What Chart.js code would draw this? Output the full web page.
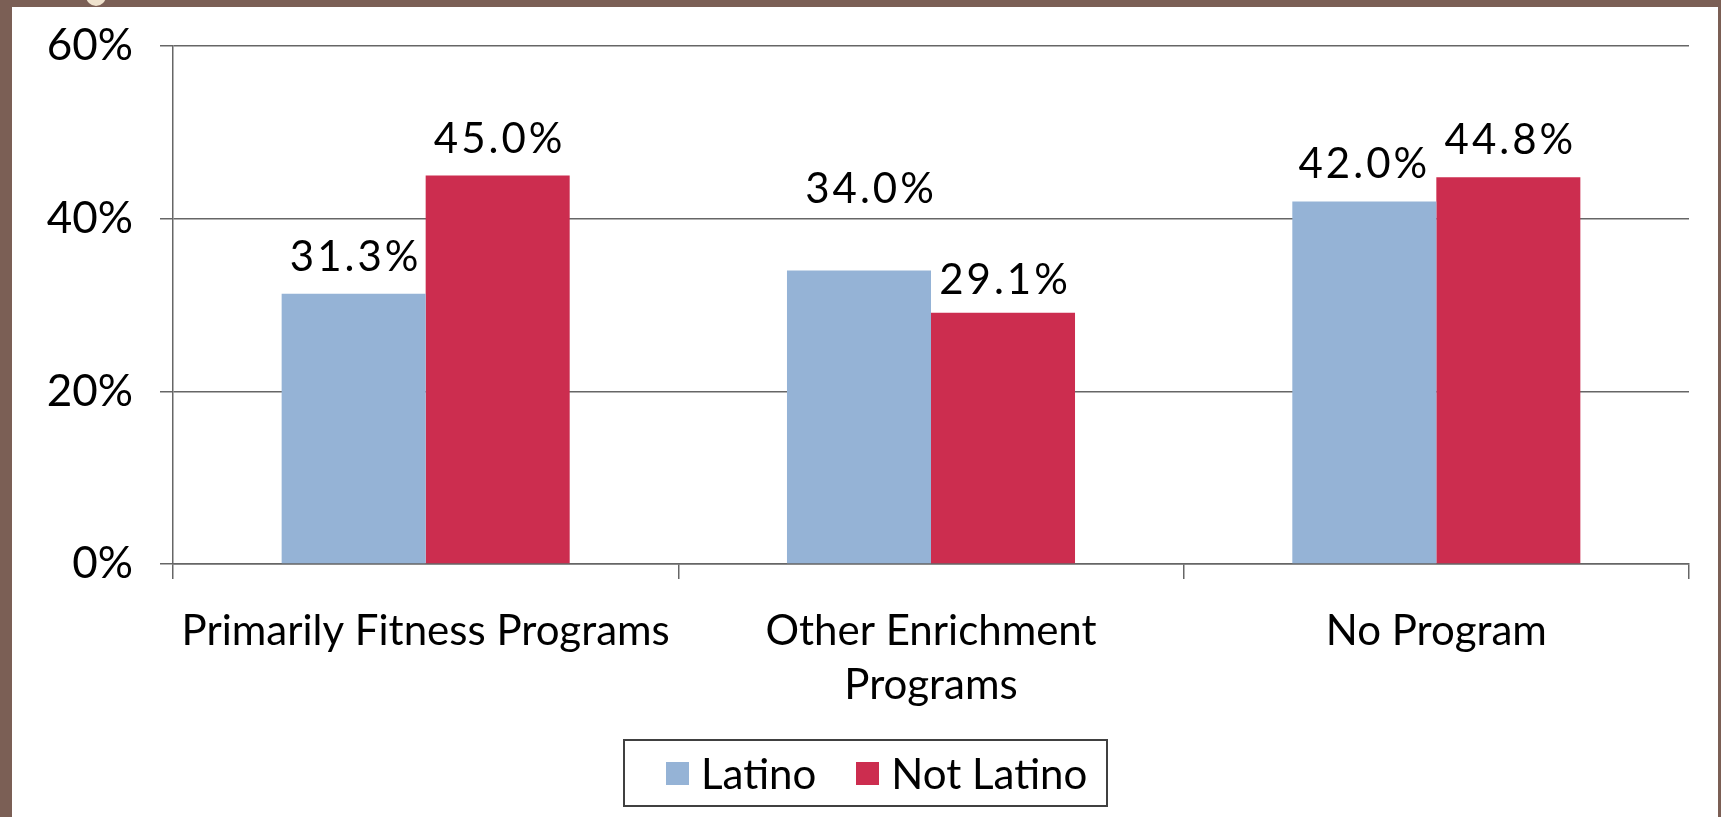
<!DOCTYPE html>
<html>
<head>
<meta charset="utf-8">
<script src="https://cdn.jsdelivr.net/npm/chart.js@4.4.1/dist/chart.umd.min.js"></script>
<style>
  html, body { margin: 0; padding: 0; }
  body { background: #7b5f55; width: 1721px; height: 817px; overflow: hidden; position: relative; }
  #frame { position: absolute; left: 12px; top: 7px; width: 1706px; height: 810px; background: #fff; }
  #dot { position: absolute; left: 86px; top: -14px; width: 20px; height: 20px; border-radius: 50%; background: #efe2cd; }
  canvas { display: block; }
  #legend {
    position: absolute; left: 611px; top: 732px; width: 481px; height: 64px;
    border: 2px solid #404040; box-sizing: content-box;
    display: flex; align-items: center;
    font-family: Lato, "Noto Sans", sans-serif; font-size: 42px; color: #000;
  }
  #legend .item { display: flex; align-items: center; margin-left: 40px; }
  #legend .item:first-child { margin-left: 41px; }
  #legend .swatch { width: 23px; height: 23px; margin-right: 12px; }
</style>
</head>
<body>
<div id="dot"></div>
<div id="frame">
  <canvas id="chart" width="1706" height="810"></canvas>
  <div id="legend"></div>
</div>
<script>
const categories = [
    'Primarily Fitness Programs',
    ['Other Enrichment', 'Programs'],
    'No Program'
];
const latino = [31.3, 34.0, 42.0];
const notLatino = [45.0, 29.1, 44.8];
const yTicks = [0, 20, 40, 60];

const fontName = 'Lato, "Noto Sans", sans-serif';
const lineColor = '#666666';

// nudges for value labels that would otherwise collide: [dx, dy] per dataset/bar
const labelNudge = [
    [[0, 0], [10, -44], [-2, 0]],
    [[0, 0], [0, 4], [0, 0]]
];

const valueLabels = {
    id: 'valueLabels',
    afterDatasetsDraw(chart) {
        const ctx = chart.ctx;
        ctx.save();
        ctx.font = '42px ' + fontName;
        ctx.letterSpacing = '3px';
        ctx.fillStyle = '#000';
        ctx.textAlign = 'center';
        ctx.textBaseline = 'alphabetic';
        chart.data.datasets.forEach((ds, i) => {
            chart.getDatasetMeta(i).data.forEach((bar, j) => {
                const n = labelNudge[i][j];
                ctx.fillText(ds.data[j].toFixed(1) + '%', bar.x + n[0] + 2, bar.y - 23 + n[1]);
            });
        });
        ctx.restore();
    }
};

const chart = new Chart(document.getElementById('chart'), {
    type: 'bar',
    data: {
        labels: categories,
        datasets: [
            { label: 'Latino', data: latino, backgroundColor: '#95b3d6' },
            { label: 'Not Latino', data: notLatino, backgroundColor: '#cc2d4f' }
        ]
    },
    options: {
        responsive: false,
        animation: false,
        datasets: { bar: { barPercentage: 1, categoryPercentage: 0.57 } },
        layout: { padding: { top: 39, right: 29, bottom: 78, left: 0 } },
        plugins: {
            tooltip: { enabled: false },
            legend: { display: false }
        },
        scales: {
            x: {
                grid: {
                    offset: true,
                    drawOnChartArea: false,
                    drawTicks: true,
                    tickLength: 15,
                    color: lineColor,
                    lineWidth: 1.5
                },
                border: { color: lineColor, width: 1.5 },
                ticks: {
                    color: '#000',
                    font: { family: fontName, size: 42, lineHeight: 1.3 },
                    autoSkip: false,
                    maxRotation: 0,
                    padding: 25
                },
                afterFit: s => { s.height = 175; }
            },
            y: {
                min: 0,
                max: 60,
                afterBuildTicks: s => { s.ticks = yTicks.map(v => ({ value: v })); },
                grid: {
                    color: lineColor,
                    lineWidth: 1.5,
                    tickLength: 13
                },
                border: { color: lineColor, width: 1.5 },
                ticks: {
                    color: '#000',
                    font: { family: fontName, size: 44 },
                    padding: 27,
                    callback: v => v + '%'
                },
                // fixed axis width; the layout padding already leaves room for the end labels
                afterFit: s => {
                    s.width = 161;
                    s.paddingTop = 0;
                    s.paddingBottom = 0;
                }
            }
        }
    },
    plugins: [valueLabels]
});

// legend built from the datasets
const legend = document.getElementById('legend');
chart.data.datasets.forEach(ds => {
    const item = document.createElement('div');
    item.className = 'item';
    const sw = document.createElement('div');
    sw.className = 'swatch';
    sw.style.background = ds.backgroundColor;
    item.appendChild(sw);
    item.appendChild(document.createTextNode(ds.label));
    legend.appendChild(item);
});
</script>
</body>
</html>
